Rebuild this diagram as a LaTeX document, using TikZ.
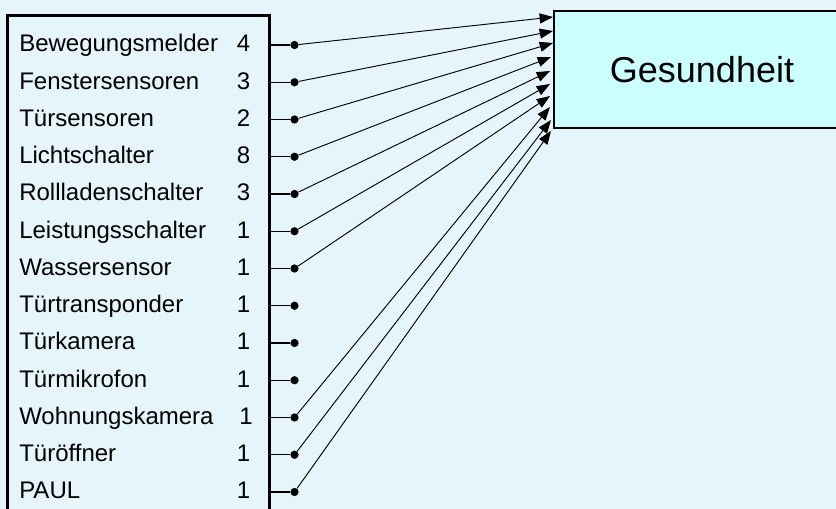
\documentclass[tikz,border=0pt]{standalone}
\usepackage{fontspec}
\setmainfont{Liberation Sans}
\usetikzlibrary{arrows.meta, positioning}

\definecolor{bgblue}{RGB}{230,245,251}
\definecolor{healthcyan}{RGB}{204,255,255}

\begin{document}
\begin{tikzpicture}[
    x=0.75pt, y=-0.75pt,
    sensorbox/.style={
        draw,
        line width=2.2pt,
    },
    healthbox/.style={
        draw,
        line width=1.5pt,
        fill=healthcyan,
        minimum width=296*0.75pt,
        minimum height=117*0.75pt,
        inner sep=0pt,
        font=\fontsize{27}{32}\selectfont,
    },
    sensor/.style={
        anchor=base west,
        inner sep=0pt,
        font=\fontsize{18}{21}\selectfont,
    },
    count/.style={
        anchor=base,
        inner sep=0pt,
        font=\fontsize{18}{21}\selectfont,
    },
    dot/.style={
        circle,
        fill,
        minimum size=6.2pt,
        inner sep=0pt,
    },
    tick/.style={
        line width=0.8pt,
    },
    link/.style={
        line width=0.7pt,
        -{Triangle[length=10pt, width=7.5pt]},
    }
]
    % Background
    \fill[bgblue] (0,0) rectangle (836,509);
    \useasboundingbox (0,0) rectangle (836,509);
    \clip (0,0) rectangle (836,509);

    % Sensor list
    \draw[sensorbox] (7.5,15.5) rectangle (269.5,540);
    \coordinate (edge) at (269.5,0);

    \node[sensor] (s1) at (19,52) {Bewegungsmelder};
    \node[sensor] (s2) at (19,89.25) {Fenstersensoren};
    \node[sensor] (s3) at (19,126.5) {Türsensoren};
    \node[sensor] (s4) at (19,163.75) {Lichtschalter};
    \node[sensor] (s5) at (19,201) {Rollladenschalter};
    \node[sensor] (s6) at (19,238.25) {Leistungsschalter};
    \node[sensor] (s7) at (19,275.5) {Wassersensor};
    \node[sensor] (s8) at (19,312.75) {Türtransponder};
    \node[sensor] (s9) at (19,350) {Türkamera};
    \node[sensor] (s10) at (19,387.25) {Türmikrofon};
    \node[sensor] (s11) at (19,424.5) {Wohnungskamera};
    \node[sensor] (s12) at (19,461.75) {Türöffner};
    \node[sensor] (s13) at (19,499) {PAUL};

    % Counts
    \node[count] (n1) at (243.5,52) {4};
    \node[count] (n2) at (243.5,89.25) {3};
    \node[count] (n3) at (243.5,126.5) {2};
    \node[count] (n4) at (243.5,163.75) {8};
    \node[count] (n5) at (243.5,201) {3};
    \node[count] (n6) at (243.5,238.25) {1};
    \node[count] (n7) at (243.5,275.5) {1};
    \node[count] (n8) at (243.5,312.75) {1};
    \node[count] (n9) at (243.5,350) {1};
    \node[count] (n10) at (243.5,387.25) {1};
    \node[count] (n11) at (246,424.5) {1};
    \node[count] (n12) at (243.5,461.75) {1};
    \node[count] (n13) at (243.5,499) {1};

    % Outputs
    \node[dot] (d1) at (294.5,45) {};
    \node[dot] (d2) at (294.5,82.25) {};
    \node[dot] (d3) at (294.5,119.5) {};
    \node[dot] (d4) at (294.5,156.75) {};
    \node[dot] (d5) at (294.5,194) {};
    \node[dot] (d6) at (294.5,231.25) {};
    \node[dot] (d7) at (294.5,268.5) {};
    \node[dot] (d8) at (294.5,305.75) {};
    \node[dot] (d9) at (294.5,343) {};
    \node[dot] (d10) at (294.5,380.25) {};
    \node[dot] (d11) at (294.5,417.5) {};
    \node[dot] (d12) at (294.5,454.75) {};
    \node[dot] (d13) at (294.5,492) {};

    \draw[tick] (edge |- d1) -- (d1);
    \draw[tick] (edge |- d2) -- (d2);
    \draw[tick] (edge |- d3) -- (d3);
    \draw[tick] (edge |- d4) -- (d4);
    \draw[tick] (edge |- d5) -- (d5);
    \draw[tick] (edge |- d6) -- (d6);
    \draw[tick] (edge |- d7) -- (d7);
    \draw[tick] (edge |- d8) -- (d8);
    \draw[tick] (edge |- d9) -- (d9);
    \draw[tick] (edge |- d10) -- (d10);
    \draw[tick] (edge |- d11) -- (d11);
    \draw[tick] (edge |- d12) -- (d12);
    \draw[tick] (edge |- d13) -- (d13);

    % Target
    \node[healthbox] (health) at (702,69.5) {Gesundheit};

    \coordinate (t1) at (553,17);
    \coordinate (t2) at (553,31);
    \coordinate (t3) at (553,43);
    \coordinate (t4) at (551,57);
    \coordinate (t5) at (550,71);
    \coordinate (t6) at (550,84);
    \coordinate (t7) at (550,96);
    \coordinate (t11) at (550,107);
    \coordinate (t12) at (551,120);
    \coordinate (t13) at (551,131);

    % Links
    \draw[link] (d1) -- (t1);
    \draw[link] (d2) -- (t2);
    \draw[link] (d3) -- (t3);
    \draw[link] (d4) -- (t4);
    \draw[link] (d5) -- (t5);
    \draw[link] (d6) -- (t6);
    \draw[link] (d7) -- (t7);
    \draw[link] (d11) -- (t11);
    \draw[link] (d12) -- (t12);
    \draw[link] (d13) -- (t13);
\end{tikzpicture}
\end{document}
